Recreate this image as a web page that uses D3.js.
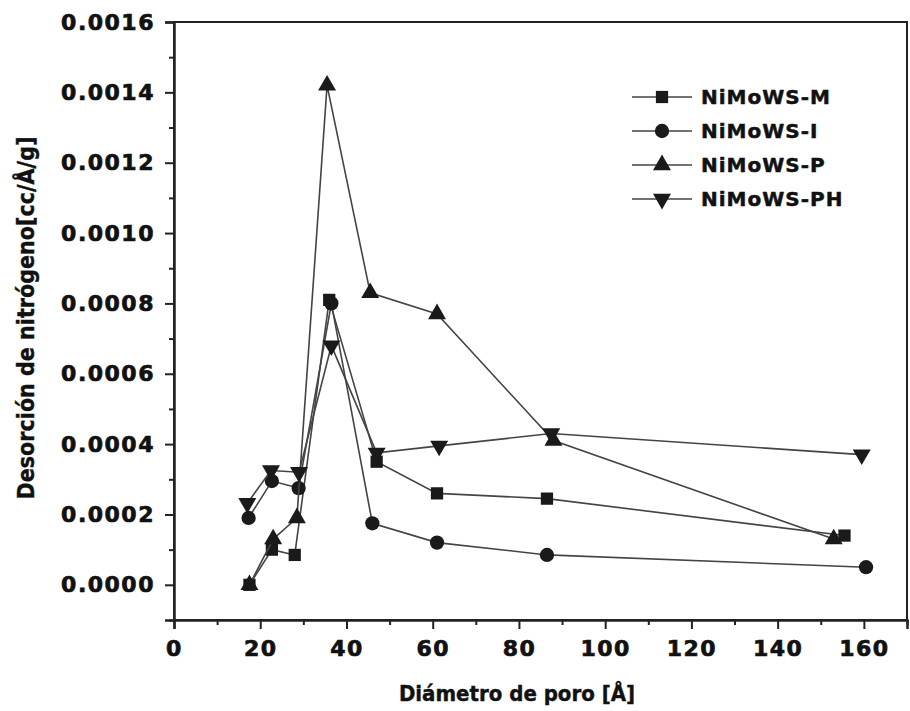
<!DOCTYPE html>
<html>
<head>
<meta charset="utf-8">
<script src="https://cdn.jsdelivr.net/npm/d3@7"></script>
<style>
  body { margin: 0; background: #fff; }
  svg { display: block; }
  .tick text { font-family: "DejaVu Sans", Verdana, sans-serif; font-weight: bold; }
</style>
</head>
<body>
<div id="data-viz"></div>
<script>

// series names (legend order)
var seriesNames = ["NiMoWS-M", "NiMoWS-I", "NiMoWS-P", "NiMoWS-PH"]

// pore diameter [Å] per series
var xM  = [17.5, 22.7, 28.0, 36.0, 47.0, 61.0, 86.5, 155.5]
var xI  = [17.3, 22.7, 28.9, 36.5, 46.0, 61.0, 86.5, 160.5]
var xP  = [17.5, 23.0, 28.5, 35.5, 45.5, 61.0, 88.0, 153.0]
var xPH = [17.0, 22.5, 29.0, 36.5, 47.0, 61.5, 87.5, 159.5]

// nitrogen desorption [cc/Å/g]
var yM  = [0.0000, 0.00010, 0.000085, 0.00081, 0.00035, 0.00026, 0.000245, 0.00014]
var yI  = [0.00019, 0.000295, 0.000275, 0.00080, 0.000175, 0.00012, 0.000085, 0.00005]
var yP  = [0.0000, 0.00013, 0.00019, 0.00142, 0.00083, 0.00077, 0.00041, 0.00013]
var yPH = [0.000232, 0.000325, 0.00032, 0.00068, 0.000375, 0.000395, 0.00043, 0.00037]

var xTicks = [0, 20, 40, 60, 80, 100, 120, 140, 160]
var yTicks = [0, 0.0002, 0.0004, 0.0006, 0.0008, 0.0010, 0.0012, 0.0014, 0.0016]

var width = 910, height = 711
var margin = { top: 22, right: 3, bottom: 91, left: 174 }

var svg = d3.select("#data-viz").append("svg")
    .attr("width", width)
    .attr("height", height)

var x = d3.scaleLinear().domain([0, 170]).range([margin.left, width - margin.right])
var y = d3.scaleLinear().domain([-0.0001, 0.0016]).range([height - margin.bottom, margin.top])

// frame (top + right, no ticks)
svg.append("rect")
    .attr("x", x(0)).attr("y", y(0.0016))
    .attr("width", x(170) - x(0)).attr("height", y(-0.0001) - y(0.0016))
    .attr("fill", "none").attr("stroke", "#222").attr("stroke-width", 2)

// minor ticks
svg.append("g")
    .attr("transform", `translate(0,${y(-0.0001)})`)
    .call(d3.axisBottom(x).tickValues(d3.range(10, 171, 20)).tickSize(5).tickFormat(""))
    .call(g => g.select(".domain").remove())
    .selectAll("line").attr("stroke", "#222").attr("stroke-width", 2)

svg.append("g")
    .attr("transform", `translate(${x(0)},0)`)
    .call(d3.axisLeft(y).tickValues(d3.range(-0.0001, 0.0016, 0.0002)).tickSize(5).tickFormat(""))
    .call(g => g.select(".domain").remove())
    .selectAll("line").attr("stroke", "#222").attr("stroke-width", 2)

// major ticks + labels
var xAxis = svg.append("g")
    .attr("transform", `translate(0,${y(-0.0001)})`)
    .call(d3.axisBottom(x).tickValues(xTicks).tickSize(9).tickPadding(11).tickFormat(d3.format("d")))

var yAxis = svg.append("g")
    .attr("transform", `translate(${x(0)},0)`)
    .call(d3.axisLeft(y).tickValues(yTicks).tickSize(9).tickPadding(10).tickFormat(d3.format(".4f")))

for (let ax of [xAxis, yAxis]) {
    ax.select(".domain").attr("stroke", "#222").attr("stroke-width", 2.5)
    ax.selectAll(".tick line").attr("stroke", "#222").attr("stroke-width", 2)
    ax.selectAll(".tick text")
        .attr("font-size", 22)
        .attr("letter-spacing", 1.5)
        .attr("fill", "#111")
        .attr("stroke", "#111").attr("stroke-width", 0.7)
}

// axis titles
svg.append("text")
    .attr("x", 517).attr("y", 701)
    .attr("text-anchor", "middle")
    .attr("font-family", "'DejaVu Sans Condensed', 'DejaVu Sans', sans-serif")
    .attr("font-weight", "bold").attr("font-size", 22).attr("fill", "#111")
    .attr("stroke", "#111").attr("stroke-width", 0.4)
    .text("Diámetro de poro [Å]")

svg.append("text")
    .attr("transform", "translate(34,318) rotate(-90)")
    .attr("text-anchor", "middle")
    .attr("font-family", "'DejaVu Sans Condensed', 'DejaVu Sans', sans-serif")
    .attr("font-weight", "bold").attr("font-size", 23).attr("fill", "#111")
    .attr("stroke", "#111").attr("stroke-width", 0.4)
    .text("Desorción de nitrógeno[cc/Å/g]")

// series
var series = [
    { name: seriesNames[0], xs: xM,  ys: yM,  symbol: d3.symbolSquare,   size: 150, rot: 0 },
    { name: seriesNames[1], xs: xI,  ys: yI,  symbol: d3.symbolCircle,   size: 160, rot: 0 },
    { name: seriesNames[2], xs: xP,  ys: yP,  symbol: d3.symbolTriangle, size: 140, rot: 0 },
    { name: seriesNames[3], xs: xPH, ys: yPH, symbol: d3.symbolTriangle, size: 140, rot: 180 }
]

var line = d3.line().x(d => x(d[0])).y(d => y(d[1]))

series.forEach(function(s) {

    var pts = s.xs.map((v, i) => [v, s.ys[i]])

    svg.append("path")
        .datum(pts)
        .attr("d", line)
        .attr("fill", "none")
        .attr("stroke", "#444")
        .attr("stroke-width", 1.6)

    svg.selectAll(null)
        .data(pts)
        .enter().append("path")
        .attr("d", d3.symbol().type(s.symbol).size(s.size))
        .attr("transform", d => `translate(${x(d[0])},${y(d[1])}) rotate(${s.rot})`)
        .attr("fill", "#1a1a1a")

})

// legend
var legend = svg.append("g").attr("transform", "translate(632,97)")

series.forEach(function(s, i) {

    var g = legend.append("g").attr("transform", `translate(0,${i * 34})`)

    g.append("line")
        .attr("x1", 0).attr("x2", 60).attr("y1", 0).attr("y2", 0)
        .attr("stroke", "#444").attr("stroke-width", 1.6)

    g.append("path")
        .attr("d", d3.symbol().type(s.symbol).size(s.size))
        .attr("transform", `translate(30,0) rotate(${s.rot})`)
        .attr("fill", "#1a1a1a")

    g.append("text")
        .attr("x", 69).attr("y", 0).attr("dy", "0.36em")
        .attr("font-family", "'DejaVu Sans', Verdana, sans-serif")
        .attr("font-weight", "bold").attr("font-size", 20).attr("letter-spacing", 1)
        .attr("fill", "#111").attr("stroke", "#111").attr("stroke-width", 0.5)
        .text(s.name)

})

</script>
</body>
</html>
